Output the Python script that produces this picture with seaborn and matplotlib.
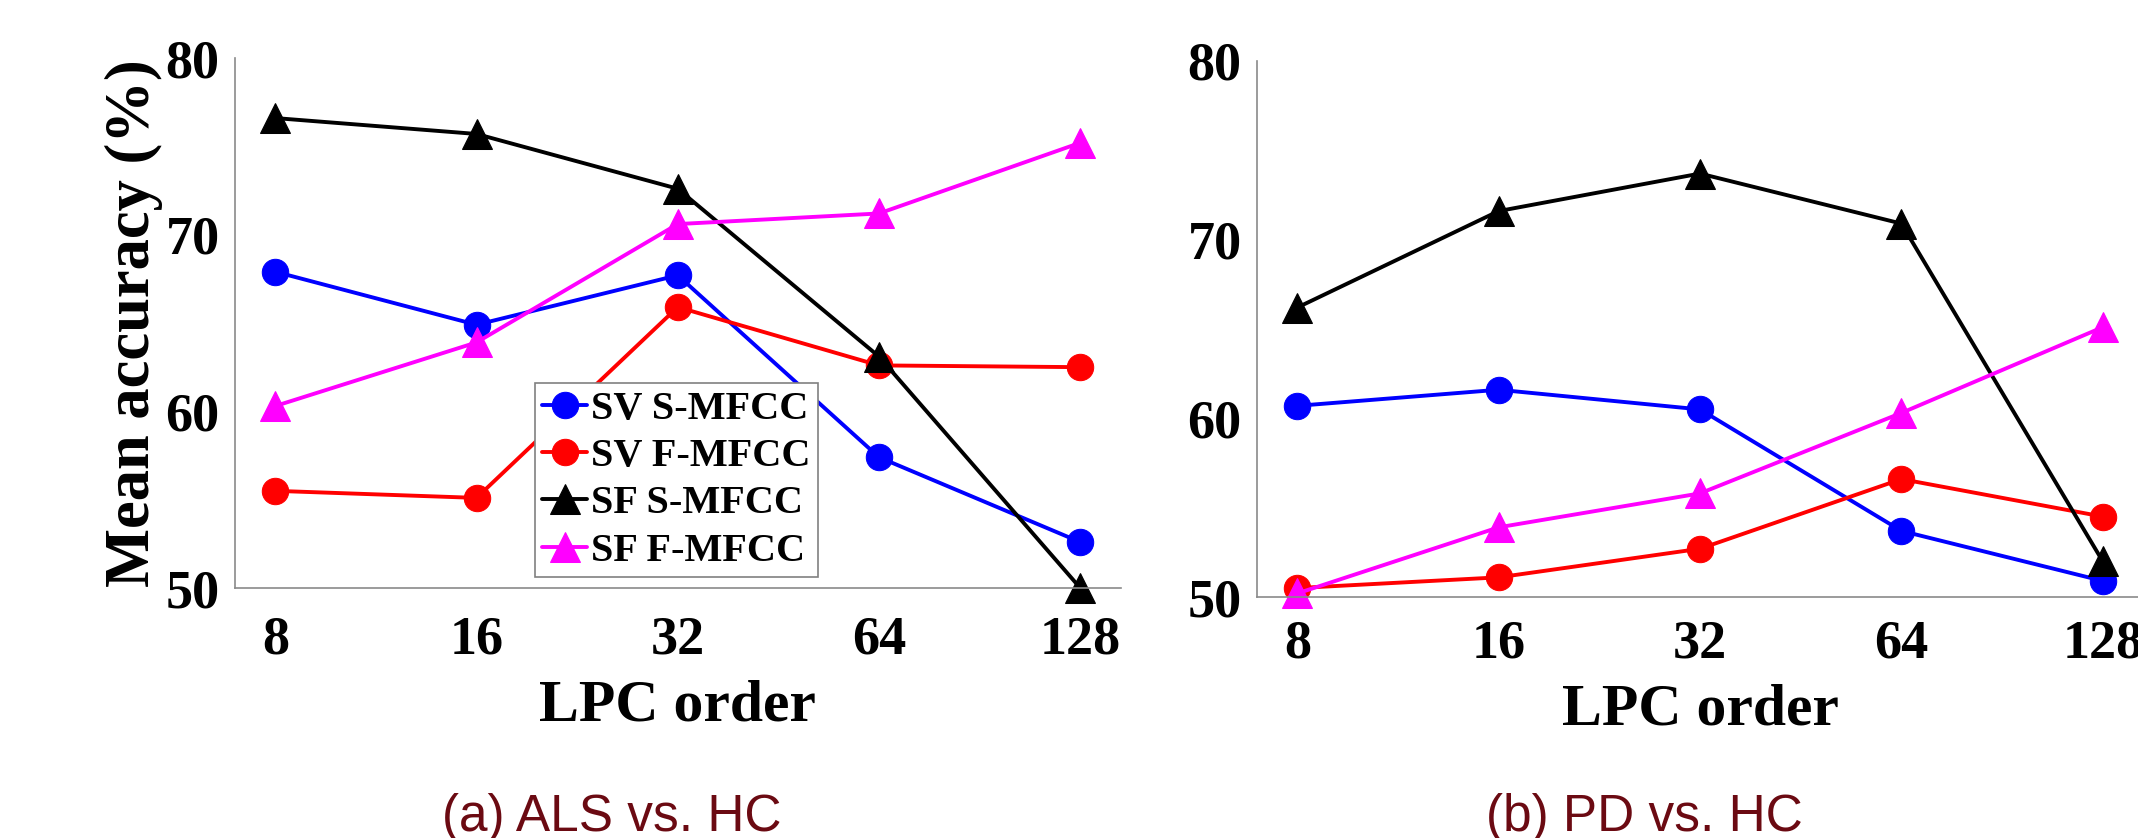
import matplotlib
matplotlib.use("Agg")
import matplotlib.pyplot as plt
import matplotlib.ticker as mticker
import numpy as np
import seaborn as sns

# LPC orders on the x axis
orders = [8, 16, 32, 64, 128]

# (a) ALS vs. HC
a_sv_s = [67.9, 64.9, 67.7, 57.4, 52.6]
a_sv_f = [55.5, 55.1, 65.9, 62.6, 62.5]
a_sf_s = [76.6, 75.7, 72.6, 63.1, 50.0]
a_sf_f = [60.3, 63.9, 70.6, 71.2, 75.2]

# (b) PD vs. HC
b_sv_s = [60.7, 61.6, 60.5, 53.7, 50.9]
b_sv_f = [50.5, 51.1, 52.7, 56.6, 54.5]
b_sf_s = [66.2, 71.6, 73.7, 70.9, 52.0]
b_sf_f = [50.2, 53.9, 55.8, 60.3, 65.1]

names = ["SV S-MFCC", "SV F-MFCC", "SF S-MFCC", "SF F-MFCC"]
colors = ["#0000ff", "#ff0000", "#000000", "#ff00ff"]
markers = ["o", "o", "^", "^"]
msizes = [19, 19, 22, 22]
yticks = [50, 60, 70, 80]

sns.set_theme(style="white")
plt.rcParams["font.family"] = ["Liberation Serif", "DejaVu Serif"]
plt.rcParams["font.weight"] = "bold"
plt.rcParams["text.color"] = "black"
plt.rcParams["axes.labelcolor"] = "black"
plt.rcParams["xtick.labelcolor"] = "black"
plt.rcParams["ytick.labelcolor"] = "black"

fig = plt.figure(figsize=(21.38, 8.38), dpi=100)
ax1 = fig.add_axes([235 / 2138, 250 / 838, 885.5 / 2138, 530 / 838])
ax2 = fig.add_axes([1257 / 2138, 241 / 838, 886 / 2138, 536 / 838])


def draw_panel(ax, series, xpad):
    ax.set_xscale("log", base=2)
    for vals, c, m, ms in zip(series, colors, markers, msizes):
        sns.lineplot(x=orders, y=vals, ax=ax, color=c, marker=m, markersize=ms,
                     markeredgecolor=c, linewidth=2.8, errorbar=None,
                     legend=False, clip_on=False)
    ax.set_xlim(8 * 2 ** -0.2, 128 * 2 ** 0.2)
    ax.set_ylim(50, 80)
    ax.set_xticks(orders)
    ax.xaxis.set_major_formatter(mticker.FixedFormatter([str(o) for o in orders]))
    ax.xaxis.set_minor_locator(mticker.NullLocator())
    ax.set_yticks(yticks)
    ax.tick_params(axis="both", direction="in", length=5, width=1, color="#808080",
                   labelsize=39, labelcolor="black")
    ax.tick_params(axis="x", pad=xpad)
    ax.tick_params(axis="y", pad=11)
    for t in ax.get_xticklabels() + ax.get_yticklabels():
        t.set_fontweight("bold")
    sns.despine(ax=ax)
    for s in ["left", "bottom"]:
        ax.spines[s].set_color("#8a8a8a")
        ax.spines[s].set_linewidth(1.2)
    ax.set_xlabel("LPC order", fontsize=43, fontweight="bold", labelpad=10,
                  color="black")


draw_panel(ax1, [a_sv_s, a_sv_f, a_sf_s, a_sf_f], 20)
draw_panel(ax2, [b_sv_s, b_sv_f, b_sf_s, b_sf_f], 16)

ax1.set_ylabel("Mean accuracy (%)", fontsize=45, fontweight="bold", labelpad=2,
               color="black")
ax2.set_ylabel("")

leg = ax1.legend(handles=ax1.lines[:4], labels=names, loc="lower left",
                 bbox_to_anchor=(0.339, 0.021), borderaxespad=0,
                 prop={"family": "Liberation Serif", "weight": "bold", "size": 29},
                 handlelength=1.1, handletextpad=0.1, borderpad=0.18,
                 labelspacing=0.25, fancybox=False, framealpha=1)
leg.get_frame().set_edgecolor("#808080")
leg.get_frame().set_linewidth(1.2)
for t in leg.get_texts():
    t.set_color("black")

cap = dict(fontsize=37, color="#6b0a12", ha="center", va="baseline",
           family=["Liberation Sans", "DejaVu Sans"], fontweight="normal")
fig.text(612 / 2138, 7 / 838, "(a) ALS vs. HC", **cap)
fig.text(1644 / 2138, 7 / 838, "(b) PD vs. HC", **cap)

fig.savefig("out.png", dpi=100)
